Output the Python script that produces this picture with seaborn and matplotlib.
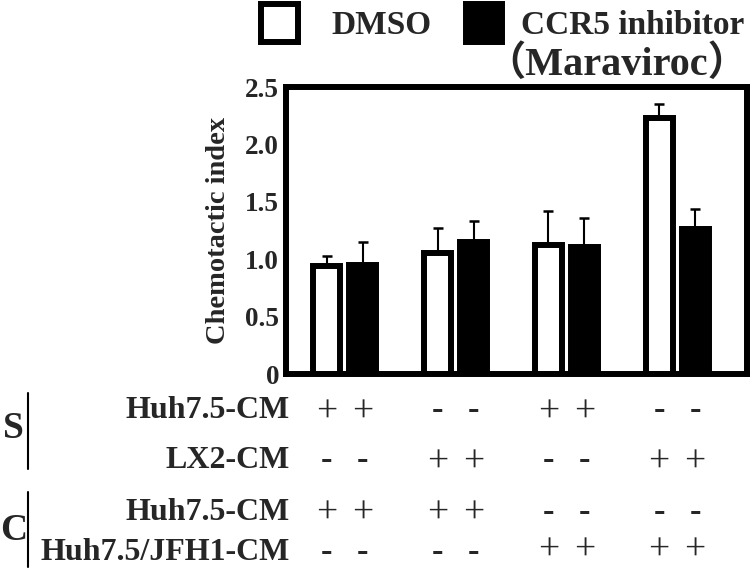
import numpy as np
import pandas as pd
import matplotlib
matplotlib.use("Agg")
import matplotlib.pyplot as plt
import matplotlib.transforms as mtransforms
from matplotlib.patches import Patch
from matplotlib.lines import Line2D
import seaborn as sns

# data
groups = ["G1", "G2", "G3", "G4"]
treatments = ["DMSO", "CCR5 inhibitor"]
dmso_mean = [0.94, 1.05, 1.12, 2.23]
dmso_err = [0.09, 0.22, 0.30, 0.12]
ccr5_mean = [0.95, 1.15, 1.11, 1.26]
ccr5_err = [0.20, 0.18, 0.25, 0.18]

row_labels = ["Huh7.5-CM", "LX2-CM", "Huh7.5-CM", "Huh7.5/JFH1-CM"]
row_signs = [
    ["+", "-", "+", "-"],
    ["-", "+", "-", "+"],
    ["+", "+", "-", "-"],
    ["-", "-", "+", "+"],
]
block_labels = ["S", "C"]

df = pd.DataFrame({
    "group": groups * 2,
    "treatment": [treatments[0]] * 4 + [treatments[1]] * 4,
    "value": dmso_mean + ccr5_mean,
})

sns.set_style("white")
plt.rcParams["font.family"] = ["Liberation Serif", "Noto Sans CJK JP"]
plt.rcParams["font.weight"] = "bold"

fig = plt.figure(figsize=(7.5, 5.68), dpi=100)
ax = fig.add_axes([0.3813, 0.3415, 0.6147, 0.5053])

sns.barplot(data=df, x="group", y="value", hue="treatment",
            palette=["white", "black"], saturation=1, width=0.65, gap=0.25,
            edgecolor="black", linewidth=4.3, errorbar=None, legend=False, ax=ax)

bar_conts = list(ax.containers[:2])
bar_x = sorted(p.get_x() + p.get_width() / 2 for cont in bar_conts for p in cont)

# upward-only error bars
for cont, means, errs in zip(bar_conts, [dmso_mean, ccr5_mean], [dmso_err, ccr5_err]):
    xs = [p.get_x() + p.get_width() / 2 for p in cont]
    ax.errorbar(xs, means, yerr=[np.zeros(len(errs)), errs], fmt="none",
                ecolor="black", elinewidth=1.5, capsize=3.6, capthick=1.8, zorder=0.5)

ax.set_xlim(-0.533, 3.632)
ax.set_ylim(0, 2.5)
ax.set_yticks([0, 0.5, 1.0, 1.5, 2.0, 2.5])
ax.set_yticklabels(["0", "0.5", "1.0", "1.5", "2.0", "2.5"])
ax.set_xticks([])
ax.set_xlabel("")
ax.tick_params(axis="y", length=0, pad=5, labelsize=19.5)
for lab in ax.get_yticklabels():
    lab.set_fontweight("bold")
for sp in ax.spines.values():
    sp.set_visible(True)
    sp.set_linewidth(4.3)
    sp.set_color("black")

ax.set_ylabel("Chemotactic index", fontsize=20.5, fontweight="bold")
ax.yaxis.set_label_coords(-0.12, 0.5)

# legend
leg1 = fig.legend(handles=[Patch(facecolor="white", edgecolor="black", linewidth=4.3)],
                  labels=["DMSO"], loc="upper left", bbox_to_anchor=(0.348, 0.993),
                  frameon=False, fontsize=24, handlelength=1.1, handleheight=1.4,
                  handletextpad=1.0, borderpad=0, borderaxespad=0)
leg2 = fig.legend(handles=[Patch(facecolor="black", edgecolor="black", linewidth=4.3)],
                  labels=["CCR5 inhibitor"], loc="upper left", bbox_to_anchor=(0.621, 0.993),
                  frameon=False, fontsize=24, handlelength=1.1, handleheight=1.4,
                  handletextpad=0.55, borderpad=0, borderaxespad=0)
fig.text(0.647, 0.886, "（Maraviroc）", fontsize=29, fontweight="bold", va="center", ha="left")

# condition table under the bars
row_y = [1 - 411 / 568, 1 - 461 / 568, 1 - 512 / 568, 1 - 552 / 568]
plus_shift = [-0.003, -0.003, -0.003, 0.002]
trans = mtransforms.blended_transform_factory(ax.transData, fig.transFigure)
for y, dy, lab, signs in zip(row_y, plus_shift, row_labels, row_signs):
    fig.text(0.386, y, lab, fontsize=23, fontweight="bold", ha="right", va="center")
    for gi, s in enumerate(signs):
        for xb in bar_x[2 * gi:2 * gi + 2]:
            if s == "+":
                ax.text(xb, y + dy, s, transform=trans, ha="center", va="center",
                        fontsize=27, fontweight="normal", clip_on=False)
            else:
                ax.text(xb, y, s, transform=trans, ha="center", va="center",
                        fontsize=25, fontweight="bold", clip_on=False)

fig.text(0.018, 1 - 429 / 568, block_labels[0], fontsize=27, fontweight="bold", ha="center", va="center")
fig.text(0.018, 1 - 530 / 568, block_labels[1], fontsize=27, fontweight="bold", ha="center", va="center")
fig.add_artist(Line2D([0.0373, 0.0373], [1 - 393 / 568, 1 - 469 / 568], transform=fig.transFigure,
                      color="black", lw=1.5))
fig.add_artist(Line2D([0.0373, 0.0373], [1 - 492 / 568, 1 - 567 / 568], transform=fig.transFigure,
                      color="black", lw=1.5))

fig.savefig("out.png", dpi=100)
